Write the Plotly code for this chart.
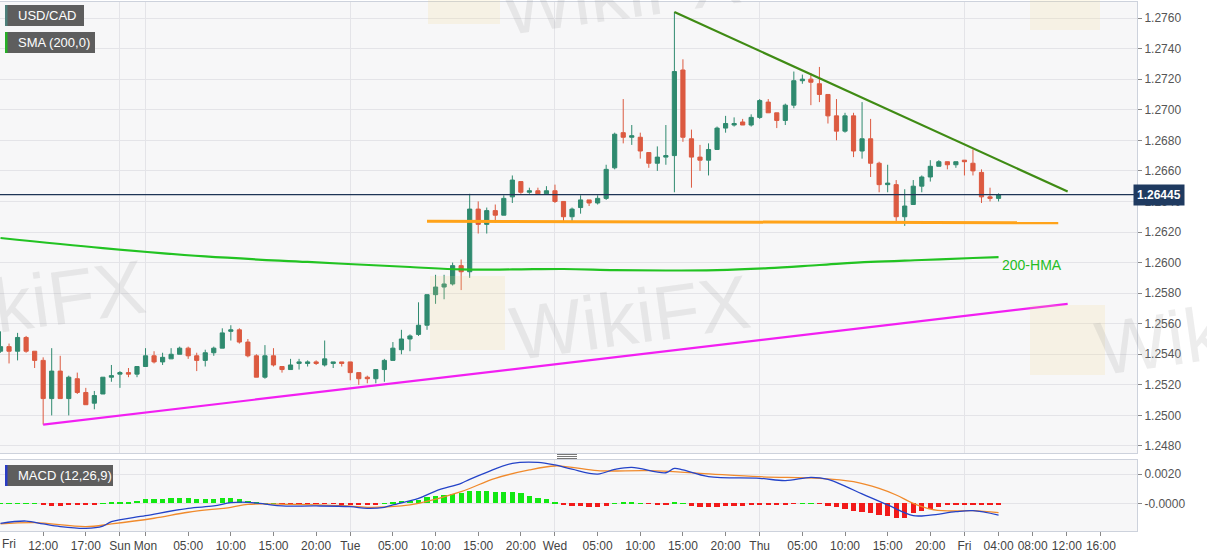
import plotly.graph_objects as go
from plotly.subplots import make_subplots

# ---------------- data (hourly USD/CAD candles) ----------------
bar_idx = list(range(118))
opens = [1.2542, 1.2545, 1.2542, 1.2551, 1.2542, 1.2536, 1.2511, 1.2529, 1.2511, 1.2524,
         1.2515, 1.2508, 1.2514, 1.2525, 1.2527, 1.2528, 1.2527, 1.2532, 1.2539, 1.2535,
         1.2537, 1.2540, 1.2544, 1.2539, 1.2536, 1.2541, 1.2544, 1.2555, 1.2556, 1.2548,
         1.2539, 1.2525, 1.2539, 1.2532, 1.2530, 1.2534, 1.2534, 1.2535, 1.2533, 1.2534,
         1.2535, 1.2535, 1.2528, 1.2525, 1.2524, 1.2530, 1.2536, 1.2543, 1.2550, 1.2553,
         1.2559, 1.2579, 1.2584, 1.2586, 1.2598, 1.2594, 1.2635, 1.2625, 1.2634, 1.2631,
         1.2643, 1.2653, 1.2646, 1.2647, 1.2645, 1.2647, 1.2640, 1.2630, 1.2636, 1.2641,
         1.2639, 1.2642, 1.2662, 1.2685, 1.2682, 1.2682, 1.2672, 1.2665, 1.2669, 1.2670,
         1.2726, 1.2681, 1.2669, 1.2667, 1.2674, 1.2688, 1.2690, 1.2692, 1.2690, 1.2695,
         1.2705, 1.2698, 1.2693, 1.2703, 1.2719, 1.2720, 1.2717, 1.2710, 1.2696, 1.2686,
         1.2696, 1.2673, 1.2681, 1.2665, 1.2651, 1.2651, 1.2630, 1.2638, 1.2650, 1.2656,
         1.2663, 1.2666, 1.2664, 1.2667, 1.2665, 1.2659, 1.2643, 1.2642]
highs = [1.2555, 1.2547, 1.2554, 1.2552, 1.2542, 1.2538, 1.2544, 1.2539, 1.2526, 1.2528,
         1.2518, 1.2516, 1.2525, 1.2533, 1.2529, 1.2531, 1.2532, 1.2544, 1.2542, 1.2541,
         1.2544, 1.2545, 1.2545, 1.2541, 1.2543, 1.2545, 1.2557, 1.2559, 1.2557, 1.2550,
         1.2540, 1.2546, 1.2544, 1.2532, 1.2537, 1.2537, 1.2536, 1.2536, 1.2549, 1.2535,
         1.2535, 1.2535, 1.2528, 1.2526, 1.2530, 1.2537, 1.2548, 1.2556, 1.2553, 1.2574,
         1.2579, 1.2592, 1.2592, 1.2600, 1.2602, 1.2645, 1.2640, 1.2636, 1.2638, 1.2644,
         1.2657, 1.2653, 1.2649, 1.2649, 1.2650, 1.2651, 1.2640, 1.2636, 1.2644, 1.2641,
         1.2644, 1.2664, 1.2685, 1.2707, 1.2690, 1.2685, 1.2672, 1.2676, 1.2690, 1.2764,
         1.2733, 1.2687, 1.2677, 1.2678, 1.2689, 1.2696, 1.2695, 1.2694, 1.2697, 1.2707,
         1.2707, 1.2698, 1.2704, 1.2725, 1.2723, 1.2724, 1.2728, 1.2710, 1.2707, 1.2698,
         1.2698, 1.2705, 1.2694, 1.2666, 1.2664, 1.2654, 1.2648, 1.2654, 1.2657, 1.2667,
         1.2667, 1.2666, 1.2666, 1.2667, 1.2674, 1.2661, 1.2649, 1.26453]
lows = [1.2541, 1.2534, 1.2536, 1.2541, 1.2531, 1.2494, 1.2500, 1.2511, 1.2500, 1.2514,
        1.2507, 1.2504, 1.2514, 1.2522, 1.2518, 1.2525, 1.2525, 1.2532, 1.2534, 1.2533,
        1.2537, 1.2540, 1.2537, 1.2529, 1.2532, 1.2539, 1.2544, 1.2549, 1.2547, 1.2538,
        1.2525, 1.2524, 1.2532, 1.2528, 1.2530, 1.2530, 1.2532, 1.2533, 1.2532, 1.2531,
        1.2532, 1.2523, 1.2520, 1.2521, 1.2521, 1.2522, 1.2536, 1.2540, 1.2542, 1.2552,
        1.2556, 1.2573, 1.2576, 1.2585, 1.2582, 1.2590, 1.2619, 1.2619, 1.2626, 1.2631,
        1.2639, 1.2645, 1.2645, 1.2645, 1.2645, 1.2639, 1.2627, 1.2627, 1.2632, 1.2637,
        1.2638, 1.2641, 1.2661, 1.2678, 1.2677, 1.2668, 1.2662, 1.2660, 1.2664, 1.2646,
        1.2679, 1.2649, 1.2660, 1.2657, 1.2674, 1.2685, 1.2689, 1.2690, 1.2689, 1.2694,
        1.2698, 1.2688, 1.2690, 1.2701, 1.2717, 1.2703, 1.2705, 1.2691, 1.2680, 1.2685,
        1.2669, 1.2668, 1.2656, 1.2646, 1.2646, 1.2627, 1.2624, 1.2638, 1.2646, 1.2653,
        1.2663, 1.2661, 1.2662, 1.2657, 1.2657, 1.2639, 1.2640, 1.2640]
closes = [1.2545, 1.2542, 1.2551, 1.2542, 1.2536, 1.2511, 1.2529, 1.2511, 1.2525, 1.2515,
          1.2507, 1.2513, 1.2525, 1.2526, 1.2528, 1.2527, 1.2532, 1.2539, 1.2535, 1.2538,
          1.2540, 1.2544, 1.2539, 1.2536, 1.2541, 1.2544, 1.2554, 1.2556, 1.2548, 1.2539,
          1.2525, 1.2539, 1.2533, 1.2530, 1.2533, 1.2535, 1.2535, 1.2534, 1.2537, 1.2535,
          1.2534, 1.2528, 1.2524, 1.2524, 1.2530, 1.2536, 1.2544, 1.2550, 1.2552, 1.2559,
          1.2579, 1.2584, 1.2586, 1.2598, 1.2594, 1.2635, 1.2625, 1.2634, 1.2631, 1.2642,
          1.2654, 1.2646, 1.2647, 1.2645, 1.2647, 1.2640, 1.2630, 1.2635, 1.2641, 1.2639,
          1.2642, 1.2661, 1.2684, 1.2682, 1.2683, 1.2673, 1.2665, 1.2669, 1.2670, 1.2725,
          1.2682, 1.2669, 1.2667, 1.2674, 1.2688, 1.2691, 1.2691, 1.2690, 1.2695, 1.2706,
          1.2698, 1.2693, 1.2703, 1.2719, 1.2720, 1.2718, 1.2710, 1.2696, 1.2686, 1.2696,
          1.2673, 1.2681, 1.2665, 1.2651, 1.2652, 1.2630, 1.2637, 1.2650, 1.2656, 1.2663,
          1.2666, 1.2664, 1.2666, 1.2666, 1.2660, 1.2643, 1.2642, 1.26445]

# 200 SMA (labelled 200-HMA), sampled along the curve
sma_idx = [0, 12, 24, 36, 48, 54, 60, 66, 72, 78, 84, 90, 96, 102, 108, 114, 117]
sma_val = [1.26161, 1.26095, 1.26040, 1.26004, 1.25971, 1.25955, 1.25955, 1.25958, 1.25951,
           1.25948, 1.25951, 1.25964, 1.25984, 1.26004, 1.26017, 1.26030, 1.26036]

# drawn trend lines
resist_idx = [79, 125.1]
resist_val = [1.2764, 1.26465]
support_idx = [50, 124]
support_val = [1.2627, 1.2626]
rising_idx = [5, 125.1]
rising_val = [1.2494, 1.2573]
last_price = 1.26445

# MACD (12,26,9)
macd_idx = [0, 3, 5, 7, 10, 12, 13, 17, 22, 25, 27, 29, 31, 33, 37, 41, 43, 45, 46, 49, 51, 54,
            55, 57, 60, 63, 65, 67, 70, 72, 74, 78, 79, 80, 83, 89, 92, 95, 97, 99, 101, 104,
            107, 109, 112, 114, 117]
macd_val = [-0.00137, -0.00121, -0.00141, -0.00159, -0.00171, -0.00155, -0.00125, -0.00084,
            -0.00034, -0.00018, 0.00005, 0.00007, -0.00005, -0.00018, -0.00018, -0.00023,
            -0.00034, -0.00027, -0.00011, 0.00034, 0.00084, 0.00137, 0.00164, 0.00212, 0.00273,
            0.00280, 0.00262, 0.00233, 0.00200, 0.00232, 0.00246, 0.00209, 0.00239, 0.00228,
            0.00182, 0.00171, 0.00155, 0.00177, 0.00164, 0.00118, 0.00064, -0.00011, -0.00084,
            -0.00080, -0.00057, -0.00050, -0.00080]
sig_idx = [0, 4, 10, 13, 18, 22, 27, 29, 34, 40, 43, 47, 49, 54, 58, 62, 65, 67, 70, 76, 82,
           89, 96, 100, 103, 105, 107, 109, 111, 114, 117]
sig_val = [-0.00141, -0.00132, -0.00159, -0.00141, -0.00102, -0.00061, -0.00027, -0.00007,
           -0.00007, -0.00016, -0.00027, -0.00018, 0.0, 0.00080, 0.00171, 0.00228, 0.00255,
           0.00246, 0.00223, 0.00223, 0.00205, 0.00182, 0.00171, 0.00148, 0.00102, 0.00057,
           0.0, -0.00039, -0.00052, -0.00050, -0.00064]
hist_val = [0.00002, 0.00002, 0.00002, 0.00002, 0.00002,
            -0.00007, -0.00016, -0.00016, -0.00011, -0.00011, -0.00009, -0.00009,
            0.00002, 0.00003,
            0.00007, 0.00011, 0.00018, 0.00030, 0.00032, 0.00032, 0.00034, 0.00036, 0.00034,
            0.00030, 0.00030, 0.00030, 0.00034, 0.00036, 0.00027, 0.00018, 0.00005,
            0.00002, 0.00002,
            -0.00003, -0.00003, -0.00003, -0.00003, -0.00003, -0.00003, -0.00003,
            -0.00007, -0.00007, -0.00007, -0.00007, -0.00005,
            0.00002,
            0.00005, 0.00014, 0.00018, 0.00025, 0.00041, 0.00050, 0.00057, 0.00064, 0.00068,
            0.00084, 0.00086, 0.00086, 0.00080, 0.00075, 0.00075, 0.00068, 0.00052, 0.00036,
            0.00027, 0.00007,
            -0.00007, -0.00016, -0.00016, -0.00023, -0.00025, -0.00016,
            0.00002, 0.00007, 0.00007, 0.00002,
            -0.00003, -0.00009, -0.00009,
            0.00009, 0.00002,
            -0.00016, -0.00023, -0.00027, -0.00023, -0.00018, -0.00016, -0.00016, -0.00011,
            -0.00009, -0.00009, -0.00011, -0.00009,
            -0.00003, 0.00002, 0.00002, -0.00003,
            -0.00016, -0.00027, -0.00036, -0.00052, -0.00057, -0.00068, -0.00082, -0.00086,
            -0.00098, -0.00098, -0.00066, -0.00052, -0.00041, -0.00027, -0.00014, -0.00005,
            -0.00005, -0.00011, -0.00014, -0.00014, -0.00014]

# x axis labels (hour bars, weekend gap removed)
tick_idx = [5, 10, 14, 17, 22, 27, 32, 37, 41, 46, 51, 56, 61, 65, 70, 75, 80, 85, 89, 94,
            99, 104, 109, 113, 117, 121, 125, 129]
tick_text = ["12:00", "17:00", "Sun", "Mon", "05:00", "10:00", "15:00", "20:00", "Tue",
             "05:00", "10:00", "15:00", "20:00", "Wed", "05:00", "10:00", "15:00", "20:00",
             "Thu", "05:00", "10:00", "15:00", "20:00", "Fri", "04:00", "08:00", "12:00",
             "16:00"]
day_idx = [14, 17, 41, 65, 89, 113]
price_ticks = [1.2480, 1.2500, 1.2520, 1.2540, 1.2560, 1.2580, 1.2600, 1.2620, 1.2640,
               1.2660, 1.2680, 1.2700, 1.2720, 1.2740, 1.2760]

assert len(opens) == len(highs) == len(lows) == len(closes) == len(hist_val) == 118

# ---------------- figure ----------------
W, H = 1207, 555
ML, MR, MT, MB = 0, 70, 2, 24
PW, PH = W - ML - MR, H - MT - MB


def px_x(x):
    return (x - ML) / PW


def px_y(y):
    return (H - MB - y) / PH


TEAL = "#2f8a6f"
RED = "#dc5a40"
FONT = "Liberation Sans, Arial, sans-serif"

fig = make_subplots(rows=2, cols=1, shared_xaxes=True, vertical_spacing=0.0)

fig.add_trace(go.Candlestick(
    x=bar_idx, open=opens, high=highs, low=lows, close=closes,
    increasing=dict(line=dict(color=TEAL, width=1), fillcolor=TEAL),
    decreasing=dict(line=dict(color=RED, width=1), fillcolor=RED),
    showlegend=False, hoverinfo="skip"), row=1, col=1)

fig.add_trace(go.Scatter(x=sma_idx, y=sma_val, mode="lines",
                         line=dict(color="#22c322", width=2.2, shape="spline"),
                         showlegend=False, hoverinfo="skip"), row=1, col=1)
fig.add_trace(go.Scatter(x=resist_idx, y=resist_val, mode="lines",
                         line=dict(color="#3f8b14", width=2.2),
                         showlegend=False, hoverinfo="skip"), row=1, col=1)
fig.add_trace(go.Scatter(x=support_idx, y=support_val, mode="lines",
                         line=dict(color="#ffa31a", width=3),
                         showlegend=False, hoverinfo="skip"), row=1, col=1)
fig.add_trace(go.Scatter(x=rising_idx, y=rising_val, mode="lines",
                         line=dict(color="#f21ff2", width=2.2),
                         showlegend=False, hoverinfo="skip"), row=1, col=1)

hist_colors = ["#12e812" if v >= 0 else "#f21a1a" for v in hist_val]
fig.add_trace(go.Bar(x=bar_idx, y=hist_val, marker=dict(color=hist_colors, line=dict(width=0)),
                     width=0.62, showlegend=False, hoverinfo="skip"), row=2, col=1)
fig.add_trace(go.Scatter(x=sig_idx, y=sig_val, mode="lines",
                         line=dict(color="#f08a2c", width=1.3, shape="spline"),
                         showlegend=False, hoverinfo="skip"), row=2, col=1)
fig.add_trace(go.Scatter(x=macd_idx, y=macd_val, mode="lines",
                         line=dict(color="#2443c8", width=1.3, shape="spline"),
                         showlegend=False, hoverinfo="skip"), row=2, col=1)

xrange = [-0.06, 133.23]
axis_line = "#cdd2dc"
grid = "#e4e4e8"
common_x = dict(range=xrange, showgrid=False, zeroline=False, showline=True, mirror=True,
                linecolor=axis_line, linewidth=1, tickmode="array", tickvals=tick_idx,
                ticktext=tick_text,
                minor=dict(tickmode="array", tickvals=day_idx, showgrid=True, gridcolor=grid,
                           gridwidth=1, ticks=""))
fig.update_layout(
    xaxis=dict(**common_x, showticklabels=False, ticks="", rangeslider=dict(visible=False)),
    xaxis2=dict(**common_x, showticklabels=True, ticks="outside", ticklen=4,
                tickcolor="#888888", tickfont=dict(family=FONT, size=12, color="#444444")),
    yaxis=dict(domain=[px_y(453), 1.0], range=[1.24754, 1.27705], side="right",
               tickmode="array", tickvals=price_ticks,
               ticktext=[f"{v:.4f}" for v in price_ticks],
               showgrid=True, gridcolor=grid, zeroline=False, showline=True, mirror=True,
               linecolor=axis_line, ticks="outside", ticklen=4, tickcolor="#888888",
               tickfont=dict(family=FONT, size=12, color="#555555")),
    yaxis2=dict(domain=[0.0, px_y(460)], range=[-0.00189, 0.00296], side="right",
                tickmode="array", tickvals=[0.002, 0.0], ticktext=["0.0020", "-0.0000"],
                showgrid=True, gridcolor=grid, zeroline=False, showline=True, mirror=True,
                linecolor=axis_line, ticks="outside", ticklen=4, tickcolor="#888888",
                tickfont=dict(family=FONT, size=12, color="#555555")),
    width=W, height=H, margin=dict(l=ML, r=MR, t=MT, b=MB),
    paper_bgcolor="white", plot_bgcolor="#f7f7f8",
    bargap=0, showlegend=False, font=dict(family=FONT),
)

shapes = []
annos = []

# watermarks (faint)
for (x0, y0, x1, y1) in [(430, 276, 505, 350), (1030, 305, 1105, 375),
                         (428, -45, 500, 24), (1030, -40, 1100, 30)]:
    shapes.append(dict(type="rect", xref="paper", yref="paper",
                       x0=px_x(x0), x1=px_x(x1), y0=px_y(y1), y1=px_y(y0),
                       fillcolor="rgba(245,215,140,0.18)", line=dict(width=0), layer="above"))
for (cx, cy, txt) in [(630, 318, "WikiFX"), (25, 302, "WikiFX"), (1215, 332, "WikiFX"),
                      (620, -8, "WikiFX")]:
    annos.append(dict(xref="paper", yref="paper", x=px_x(cx), y=px_y(cy), text=txt,
                      showarrow=False, xanchor="center", yanchor="middle",
                      font=dict(family=FONT, size=76, color="rgba(150,150,150,0.17)"),
                      textangle=-8))

# last price line + label
shapes.append(dict(type="line", xref="paper", yref="y", x0=0, x1=1, y0=last_price,
                   y1=last_price, line=dict(color="#1e3556", width=1.2)))
annos.append(dict(xref="paper", yref="y", x=1.0, y=last_price, text="<b>1.26445</b>",
                  showarrow=False, xanchor="left", yanchor="middle", xshift=-4,
                  bgcolor="#1f3a60", font=dict(family=FONT, size=12, color="white"),
                  borderpad=3))

# legend tags
for (y0, y1, w, stripe, txt) in [(5, 26, 79, "#4d7f7a", "USD/CAD"),
                                 (32, 53, 90, "#26b026", "SMA (200,0)"),
                                 (465, 486, 108, "#2a3cc4", "MACD (12,26,9)")]:
    shapes.append(dict(type="rect", xref="paper", yref="paper", x0=px_x(5), x1=px_x(5 + w),
                       y0=px_y(y1), y1=px_y(y0), fillcolor="#5e5e5e", line=dict(width=0),
                       layer="above"))
    shapes.append(dict(type="rect", xref="paper", yref="paper", x0=px_x(5), x1=px_x(7.5),
                       y0=px_y(y1), y1=px_y(y0), fillcolor=stripe, line=dict(width=0),
                       layer="above"))
    annos.append(dict(xref="paper", yref="paper", x=px_x(16), y=px_y((y0 + y1) / 2),
                      text=txt, showarrow=False, xanchor="left", yanchor="middle",
                      font=dict(family=FONT, size=13, color="white")))

# "Fri" first label at the left edge
annos.append(dict(xref="paper", yref="paper", x=0.0, y=0.0, text="Fri", showarrow=False,
                  xanchor="left", yanchor="top", yshift=-4,
                  font=dict(family=FONT, size=12, color="#444444")))

# 200-HMA label
annos.append(dict(xref="x", yref="y", x=117.2, y=1.25984, text="200-HMA", showarrow=False,
                  xanchor="left", yanchor="middle",
                  font=dict(family=FONT, size=14, color="#25bd25")))

# pane splitter handle
for yy in (454.5, 456.5, 458.5):
    shapes.append(dict(type="line", xref="paper", yref="paper", x0=px_x(557), x1=px_x(577),
                       y0=px_y(yy), y1=px_y(yy), line=dict(color="#777777", width=1)))

fig.update_layout(shapes=shapes, annotations=annos)
fig.write_html("out.html", config={"displayModeBar": False},
               post_script="document.body.style.margin='0';document.body.style.padding='0';")
